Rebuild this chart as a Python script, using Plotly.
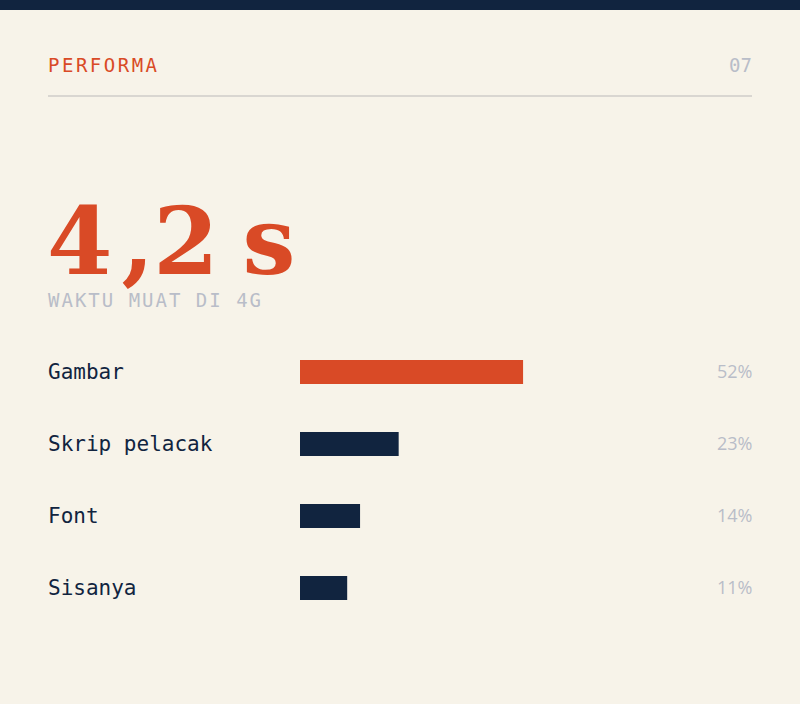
import plotly.graph_objects as go

categories = ["Gambar", "Skrip pelacak", "Font", "Sisanya"]
shares = [52, 23, 14, 11]
pct_labels = ["52%", "23%", "14%", "11%"]
headline_parts = ["4", ",", "2", "\u2009s"]
headline_caption = "WAKTU MUAT DI 4G"
section_title = "PERFORMA"
page_number = "07"

BG = "#f7f3e9"
NAVY = "#11243f"
ORANGE = "#d94a26"
GREY = "#b9bdc8"
W, H = 800, 704

def px(x):
    return x / W

def py(y):
    return 1 - y / H

bar_colors = [ORANGE if i == 0 else NAVY for i in range(len(categories))]

fig = go.Figure()
fig.add_trace(go.Bar(
    x=shares, y=categories, orientation="h",
    marker=dict(color=bar_colors, line=dict(width=0)),
    width=0.333, hoverinfo="skip",
))

NOPAD = dict(borderpad=0, borderwidth=0, showarrow=False)

annotations = []
for cat in categories:
    annotations.append(dict(
        x=px(48), xref="paper", y=cat, yref="y", text=cat,
        xanchor="left", yanchor="middle",
        font=dict(family="DejaVu Sans Mono", size=21, color=NAVY), **NOPAD,
    ))
for cat, lab in zip(categories, pct_labels):
    annotations.append(dict(
        x=px(752), xref="paper", y=cat, yref="y", text=lab,
        xanchor="right", yanchor="middle", yshift=1,
        font=dict(family="Open Sans", size=18, color=GREY), **NOPAD,
    ))

# per-glyph tracking to mimic the reference's display face
tracking = [9, -1, 3.5, 1.8]
headline_html = "<b>" + "".join(
    f'<span style="letter-spacing:{t}px">{p}</span>' for p, t in zip(headline_parts, tracking)
) + "</b>"

annotations += [
    dict(x=px(48), y=py(65), xref="paper", yref="paper",
         xanchor="left", yanchor="middle",
         text=f'<span style="letter-spacing:2.5px">{section_title}</span>',
         font=dict(family="DejaVu Sans Mono", size=19, color=ORANGE), **NOPAD),
    dict(x=px(752), y=py(65), xref="paper", yref="paper",
         xanchor="right", yanchor="middle", text=page_number,
         font=dict(family="DejaVu Sans Mono", size=19, color=GREY), **NOPAD),
    dict(x=px(47), y=py(241), xref="paper", yref="paper",
         xanchor="left", yanchor="middle", text=headline_html,
         font=dict(family="DejaVu Serif", size=94, color=ORANGE), **NOPAD),
    dict(x=px(48), y=py(300), xref="paper", yref="paper",
         xanchor="left", yanchor="middle",
         text=f'<span style="letter-spacing:2px">{headline_caption}</span>',
         font=dict(family="DejaVu Sans Mono", size=19, color=GREY), **NOPAD),
]

shapes = [
    dict(type="rect", xref="paper", yref="paper", x0=0, x1=1, y0=py(10), y1=1,
         fillcolor=NAVY, line=dict(width=0)),
    dict(type="line", xref="paper", yref="paper", x0=px(48), x1=px(752),
         y0=py(96), y1=py(96), line=dict(color="#cfcdc8", width=1.5)),
]

fig.update_layout(
    width=W, height=H, margin=dict(l=0, r=0, t=0, b=0),
    paper_bgcolor=BG, plot_bgcolor=BG, showlegend=False,
    annotations=annotations, shapes=shapes,
    xaxis=dict(domain=[px(300), px(729)], range=[0, 100], visible=False, fixedrange=True),
    yaxis=dict(domain=[py(624), py(336)], range=[3.5, -0.5], visible=False,
               type="category", categoryorder="array", categoryarray=categories,
               fixedrange=True),
)

fig.write_html("out.html", config=dict(displayModeBar=False))
